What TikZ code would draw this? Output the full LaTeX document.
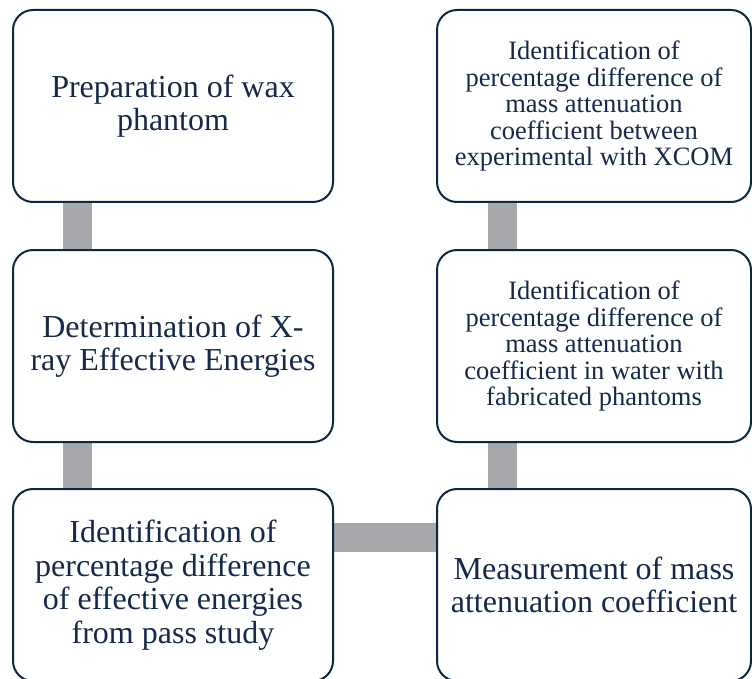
\documentclass[tikz,border=0pt]{standalone}
\usepackage{fontspec}
\setmainfont{Liberation Serif}
\usetikzlibrary{backgrounds}
\definecolor{navy}{HTML}{0E2841}
\definecolor{txt}{HTML}{15294A}
\definecolor{conngray}{HTML}{A7A8AB}
\tikzset{
  stepbox/.style={draw=navy, line width=2pt, rounded corners=20pt, fill=white,
    text=txt, align=center, inner sep=0pt, minimum height=192pt},
  leftbox/.style={stepbox, minimum width=320pt, font=\fontsize{32}{33.5}\selectfont},
  rightbox/.style={stepbox, minimum width=314pt, font=\fontsize{26.5}{26.5}\selectfont},
  bigrightbox/.style={stepbox, minimum width=314pt, font=\fontsize{32}{33.5}\selectfont},
  conn/.style={draw=conngray, line width=29pt}
}
\begin{document}
\begin{tikzpicture}[x=1pt,y=-1pt]
\useasboundingbox (0,0) rectangle (752,679);
\node[leftbox] (l1) at (173,106) {Preparation of wax\\phantom};
\node[leftbox] (l2) at (173,346) {Determination of X-\\ray Effective Energies};
\node[leftbox] (l3) at (173,585) {Identification of\\percentage difference\\of effective energies\\from pass study};
\node[rightbox] (r1) at (594,106) {Identification of\\percentage difference of\\mass attenuation\\coefficient between\\experimental with XCOM};
\node[rightbox] (r2) at (594,346) {Identification of\\percentage difference of\\mass attenuation\\coefficient in water with\\fabricated phantoms};
\node[bigrightbox] (r3) at (594,585) {Measurement of mass\\attenuation coefficient};
\begin{scope}[on background layer]
\draw[conn] ([xshift=65.5pt]l1.south west) -- ([xshift=65.5pt]l2.north west);
\draw[conn] ([xshift=65.5pt]l2.south west) -- ([xshift=65.5pt]l3.north west);
\draw[conn] ([xshift=66.5pt]r2.south west) -- ([xshift=66.5pt]r3.north west);
\draw[conn] ([yshift=48pt]l3.east) -- ([yshift=48pt]r3.west);
\draw[conn] ([xshift=66.5pt]r1.south west) -- ([xshift=66.5pt]r2.north west);
\end{scope}
\end{tikzpicture}
\end{document}
